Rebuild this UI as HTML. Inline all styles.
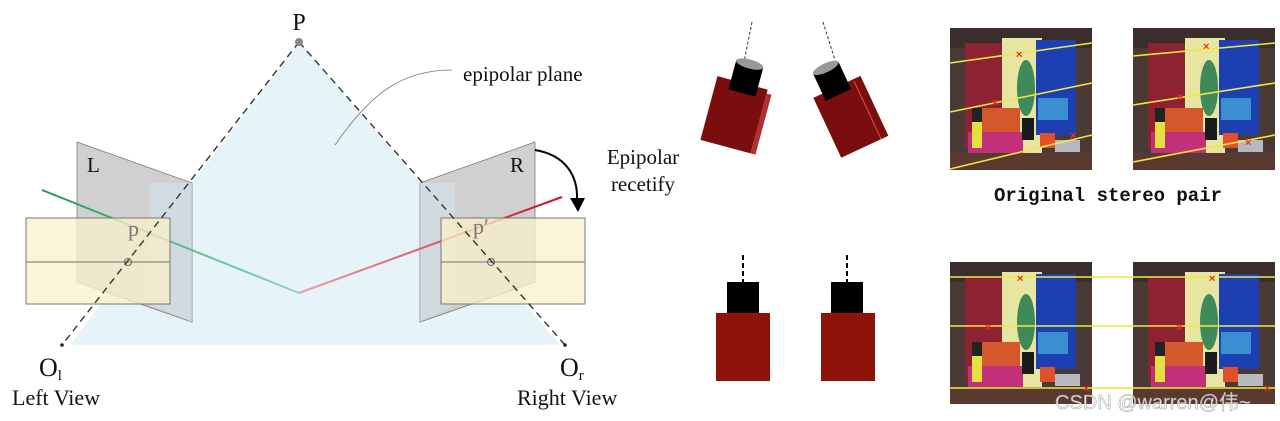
<!DOCTYPE html>
<html><head><meta charset="utf-8"><style>
html,body{margin:0;padding:0;background:#fff;}
svg{display:block}
</style></head><body>
<svg width="1280" height="421" viewBox="0 0 1280 421" xmlns="http://www.w3.org/2000/svg">
<defs>
<linearGradient id="gl" x1="0" x2="1"><stop offset="0" stop-color="#1e9a50"/><stop offset="1" stop-color="#8fd6c0"/></linearGradient>
<linearGradient id="rl" x1="0" x2="1"><stop offset="0" stop-color="#f0a0a8"/><stop offset="1" stop-color="#d0101e"/></linearGradient>
<g id="scene">
<rect x="0" y="0" width="142" height="142" fill="#4a3a36"/>
<rect x="0" y="0" width="142" height="20" fill="#3a2e2c"/>
<rect x="15" y="15" width="42" height="105" fill="#8c2232"/>
<rect x="52" y="10" width="40" height="120" fill="#e6e6a2"/>
<rect x="86" y="12" width="40" height="95" fill="#1c3fb2"/>
<rect x="88" y="70" width="30" height="22" fill="#3a8fd0"/>
<ellipse cx="76" cy="60" rx="9" ry="28" fill="#3e8a58"/>
<rect x="30" y="80" width="40" height="28" fill="#d5572c"/>
<rect x="18" y="104" width="55" height="22" fill="#c2307a"/>
<rect x="22" y="92" width="10" height="28" fill="#e5e040"/>
<rect x="22" y="80" width="10" height="14" fill="#222"/>
<rect x="72" y="90" width="12" height="22" fill="#1a1a1a"/>
<rect x="90" y="105" width="15" height="15" fill="#e0502a"/>
<rect x="105" y="112" width="25" height="12" fill="#b8b8c0"/>
<rect x="0" y="125" width="142" height="17" fill="#5a3a30"/>
</g>
</defs>

<!-- left diagram -->
<polygon points="299,42 70,345 560,345" fill="#e6f3f8"/>
<polygon points="77,142 192,183 192,322 77,282" fill="#c8c8c8" stroke="#666" stroke-width="0.8" opacity="0.85"/>
<polygon points="420,183 535,142 535,282 420,322" fill="#c8c8c8" stroke="#666" stroke-width="0.8" opacity="0.85"/>
<polygon points="150,183 192,183 192,322 150,305" fill="#d4e2ea" opacity="0.6"/>
<polygon points="420,183 455,183 455,305 420,322" fill="#d4e2ea" opacity="0.6"/>
<line x1="42" y1="190" x2="299" y2="293" stroke="url(#gl)" stroke-width="2"/>
<line x1="299" y1="293" x2="562" y2="197" stroke="url(#rl)" stroke-width="2"/>
<rect x="26" y="218" width="144" height="86" fill="#fbf0c8" fill-opacity="0.75" stroke="#777" stroke-width="1"/>
<rect x="441" y="218" width="144" height="86" fill="#fbf0c8" fill-opacity="0.75" stroke="#777" stroke-width="1"/>
<line x1="26" y1="262" x2="170" y2="262" stroke="#999" stroke-width="1.5"/>
<line x1="441" y1="262" x2="585" y2="262" stroke="#999" stroke-width="1.5"/>
<circle cx="128" cy="262" r="3.5" fill="none" stroke="#666"/>
<circle cx="491" cy="262" r="3.5" fill="none" stroke="#666"/>
<line x1="299" y1="42" x2="62" y2="345" stroke="#333" stroke-width="1.4" stroke-dasharray="7,5"/>
<line x1="299" y1="42" x2="565" y2="345" stroke="#333" stroke-width="1.4" stroke-dasharray="7,5"/>
<circle cx="299" cy="42" r="4" fill="#888"/>
<circle cx="62" cy="345" r="1.8" fill="#222"/>
<circle cx="565" cy="345" r="1.8" fill="#222"/>
<path d="M335,145 C370,95 400,70 452,70" fill="none" stroke="#777" stroke-width="0.8"/>
<path d="M535,150 C565,155 578,175 577,200" fill="none" stroke="#000" stroke-width="2"/>
<polygon points="570,198 585,198 578,212" fill="#000"/>
<g font-family="Liberation Serif, serif" fill="#111">
<text x="299" y="30" font-size="24" text-anchor="middle">P</text>
<text x="463" y="81" font-size="21">epipolar plane</text>
<text x="87" y="172" font-size="21">L</text>
<text x="510" y="172" font-size="21">R</text>
<text x="128" y="236" font-size="22" fill="#777">p</text>
<text x="473" y="234" font-size="22" fill="#777">p′</text>
<text x="39" y="376" font-size="26">O<tspan font-size="15" dy="4">l</tspan></text>
<text x="560" y="376" font-size="26">O<tspan font-size="15" dy="4">r</tspan></text>
<text x="12" y="405" font-size="22">Left View</text>
<text x="517" y="405" font-size="22">Right View</text>
<text x="643" y="164" font-size="21" text-anchor="middle">Epipolar</text>
<text x="643" y="191" font-size="21" text-anchor="middle">recetify</text>
</g>

<!-- tilted cameras -->
<line x1="752" y1="22" x2="744" y2="62" stroke="#333" stroke-dasharray="3,2"/>
<line x1="823" y1="22" x2="835" y2="60" stroke="#333" stroke-dasharray="3,2"/>
<g transform="rotate(15 735 115)">
<rect x="708" y="82" width="52" height="66" fill="#7a0d0d"/>
<rect x="760" y="86" width="5" height="62" fill="#b03030"/>
<rect x="722" y="62" width="28" height="30" fill="#000"/>
<ellipse cx="736" cy="62" rx="14" ry="4.5" fill="#999"/>
</g>
<g transform="rotate(-25 850 115)">
<rect x="824" y="84" width="52" height="66" fill="#7a0d0d"/>
<line x1="868" y1="86" x2="868" y2="150" stroke="#e05050"/>
<rect x="834" y="62" width="28" height="30" fill="#000"/>
<ellipse cx="848" cy="62" rx="14" ry="4.5" fill="#999"/>
</g>

<!-- upright cameras -->
<line x1="743" y1="255" x2="743" y2="282" stroke="#000" stroke-width="2" stroke-dasharray="5,3"/>
<line x1="847" y1="255" x2="847" y2="282" stroke="#000" stroke-width="2" stroke-dasharray="5,3"/>
<rect x="727" y="282" width="32" height="32" fill="#000"/>
<rect x="831" y="282" width="32" height="32" fill="#000"/>
<rect x="716" y="313" width="54" height="68" fill="#8f1208"/>
<rect x="821" y="313" width="54" height="68" fill="#8f1208"/>

<!-- photos top -->
<g transform="translate(950,28)"><use href="#scene"/>
<g stroke="#f2e640" stroke-width="1.6"><line x1="0" y1="35" x2="142" y2="15"/><line x1="0" y1="84" x2="142" y2="55"/><line x1="0" y1="141" x2="142" y2="107"/></g>
<g fill="#e83020" font-size="11" font-family="Liberation Sans, sans-serif" font-weight="bold"><text x="66" y="30">×</text><text x="42" y="78">×</text><text x="120" y="111">×</text></g></g>
<g transform="translate(1133,28)"><use href="#scene"/>
<g stroke="#f2e640" stroke-width="1.6"><line x1="0" y1="28" x2="142" y2="15"/><line x1="0" y1="77" x2="142" y2="55"/><line x1="0" y1="134" x2="142" y2="107"/></g>
<g fill="#e83020" font-size="11" font-family="Liberation Sans, sans-serif" font-weight="bold"><text x="70" y="22">×</text><text x="44" y="72">×</text><text x="112" y="118">×</text></g></g>
<text x="1108" y="201" font-family="Liberation Mono, monospace" font-weight="bold" font-size="19" text-anchor="middle" fill="#111">Original stereo pair</text>

<!-- photos bottom -->
<g transform="translate(950,262)"><use href="#scene"/></g>
<g transform="translate(1133,262)"><use href="#scene"/></g>
<g stroke="#f2e640" stroke-width="1.6"><line x1="950" y1="277" x2="1275" y2="277"/><line x1="950" y1="326" x2="1275" y2="326"/><line x1="950" y1="388" x2="1275" y2="388"/></g>
<g fill="#e83020" font-size="11" font-family="Liberation Sans, sans-serif" font-weight="bold"><text x="1017" y="282">×</text><text x="985" y="331">×</text><text x="1083" y="392">×</text><text x="1209" y="282">×</text><text x="1176" y="331">×</text><text x="1264" y="392">×</text></g>
<text x="1055" y="409" font-family="Liberation Sans, 'Noto Sans CJK SC', sans-serif" font-size="20" fill="#fff" fill-opacity="0.8" stroke="#999" stroke-width="0.5">CSDN @warren@伟~</text>
</svg>
</body></html>
